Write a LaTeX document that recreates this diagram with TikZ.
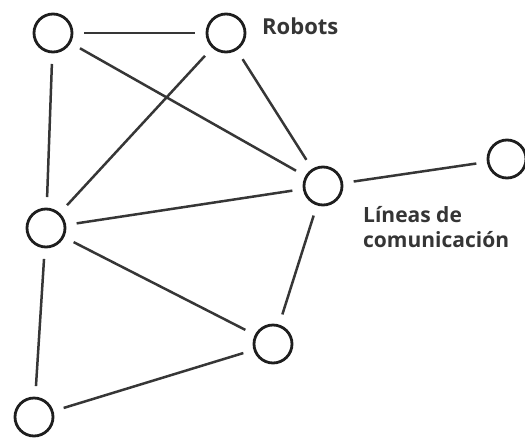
\documentclass[tikz,border=0pt]{standalone}
\usepackage{fontspec}
\setmainfont{Open Sans}
\definecolor{edgecol}{HTML}{363636}
\definecolor{ringcol}{HTML}{1E1E1E}
\begin{document}
\begin{tikzpicture}[x=1pt,y=-1pt,
  robot/.style={circle,draw=ringcol,line width=2.8pt,minimum size=38pt,inner sep=0pt,outer sep=0pt},
  link/.style={draw=edgecol,line width=2.5pt,shorten >=12pt,shorten <=12pt},
  lbl/.style={font=\bfseries\fontsize{21}{25}\selectfont,text=ringcol!90,inner sep=0pt,align=left}]
\useasboundingbox (0,0) rectangle (525,437);
\node[robot] (A) at (53,33) {};
\node[robot] (B) at (226,33) {};
\node[robot] (C) at (323,186) {};
\node[robot] (D) at (507,159) {};
\node[robot] (E) at (46,228) {};
\node[robot] (F) at (273,344) {};
\node[robot] (G) at (34,417) {};
\draw[link] (A) -- (B);
\draw[link] (A) -- (E);
\draw[link] (A) -- (C);
\draw[link] (B) -- (E);
\draw[link] (B) -- (C);
\draw[link] (C) -- (D);
\draw[link] (E) -- (C);
\draw[link] (E) -- (F);
\draw[link] (E) -- (G);
\draw[link] (G) -- (F);
\draw[link] (C) -- (F);
\node[lbl,font=\bfseries\fontsize{22}{25}\selectfont,anchor=base west] (rob) at (262,34) {Robots};
\node[lbl,anchor=base west] (lin) at (363,247) {Líneas de\\comunicación};
\end{tikzpicture}
\end{document}
